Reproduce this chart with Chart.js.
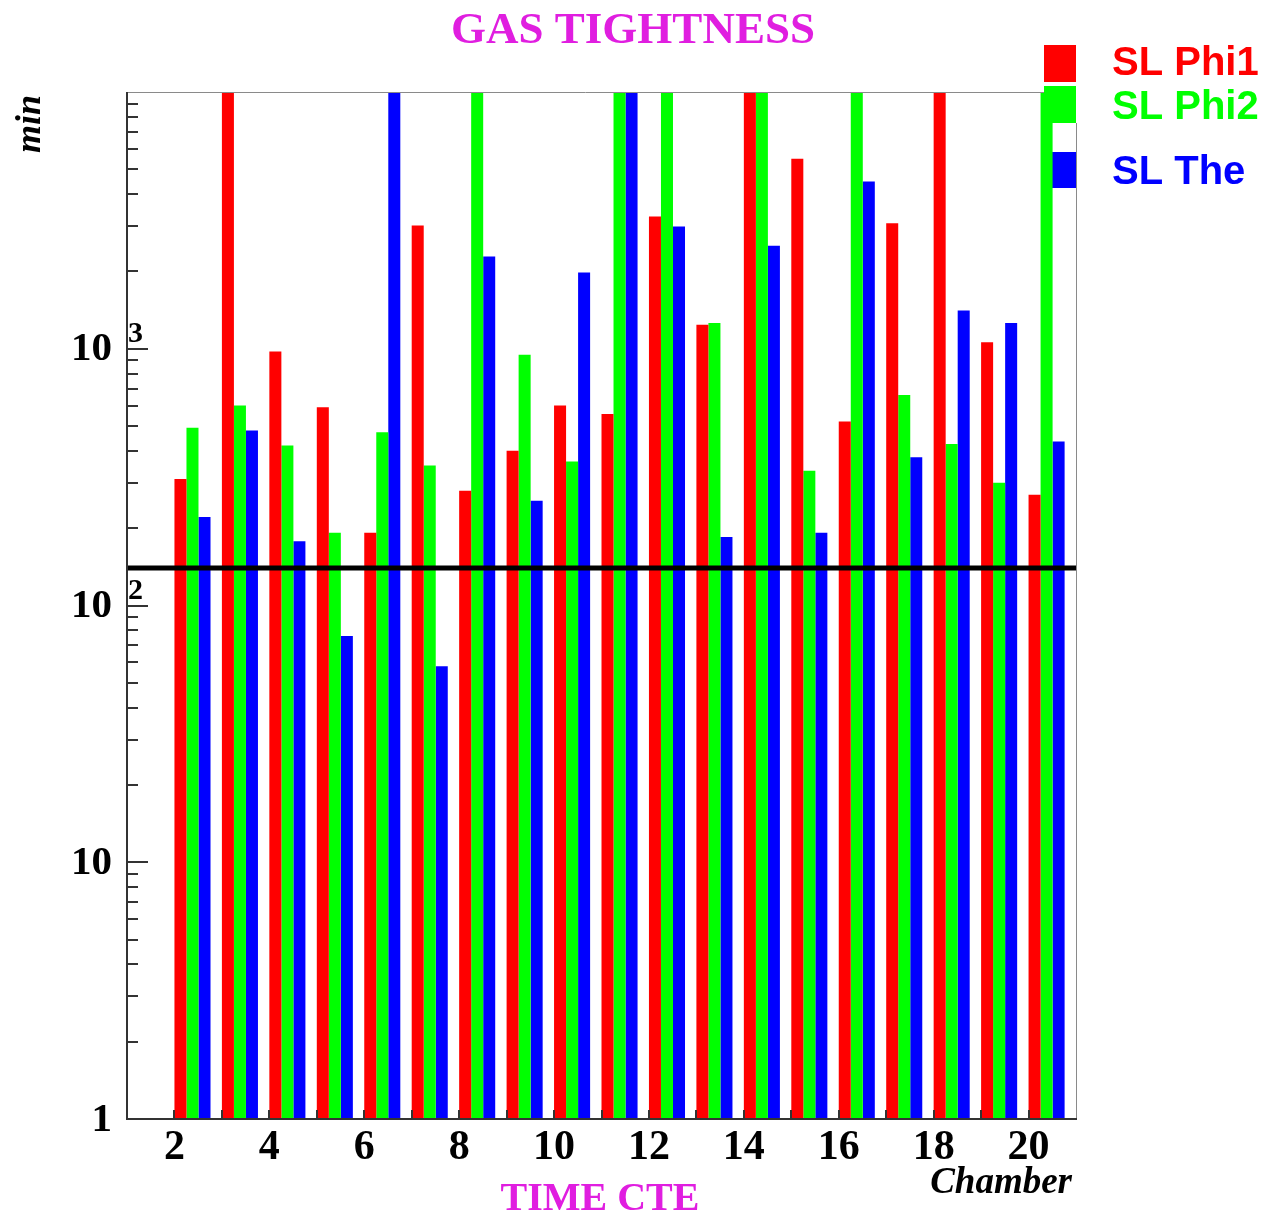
<!DOCTYPE html>
<html>
<head>
<meta charset="utf-8">
<script src="https://cdn.jsdelivr.net/npm/chart.js@4/dist/chart.umd.min.js"></script>
<style>
  html, body { margin: 0; padding: 0; background: #ffffff; }
  #wrap { width: 1269px; height: 1218px; position: relative; }
</style>
</head>
<body>
<div id="wrap"><canvas id="c" width="1269" height="1218"></canvas></div>
<script>
// ---- data ----
const chambers = [1,2,3,4,5,6,7,8,9,10,11,12,13,14,15,16,17,18,19,20];
// values above 10^4 run off the top of the frame
const slPhi1 = [null, 311, 15000, 975, 592, 192, 3020, 280, 401, 601, 557, 3274, 1239, 15000, 5495, 521, 3085, 15000, 1061, 270];
const slPhi2 = [null, 492, 601, 420, 192, 473, 351, 15000, 947, 364, 15000, 15000, 1259, 15000, 335, 15000, 661, 426, 301, 15000];
const slThe  = [null, 221, 480, 178, 76, 15000, 58, 2287, 256, 1982, 15000, 2993, 185, 2517, 192, 4480, 378, 1409, 1259, 435];
const seriesNames = ['SL Phi1', 'SL Phi2', 'SL The'];
const limitValue = 140;
const xTickLabels = [2,4,6,8,10,12,14,16,18,20];
const yDecades = [1, 10, 100, 1000];
const yDecadeLabels = [['1',''], ['10',''], ['10','2'], ['10','3']];
const xRange = [1, 21];
const yRange = [1, 10000];

const colors = ['#ff0000', '#00ff00', '#0000ff'];
const groupOffset = 0.38; // bars of a chamber sit in the left part of its bin

function toPoints(arr){ return chambers.map((c,i)=>({x: c + groupOffset, y: arr[i]})); }

const SERIF = '"Liberation Serif", "DejaVu Serif", serif';
const SANS = '"Liberation Sans", Arial, sans-serif';

const deco = {
  id: 'deco',
  beforeDatasetsDraw(chart){
    const ctx = chart.ctx;
    ctx.save();
    // legend boxes (bars are drawn over them)
    ctx.fillStyle = colors[0]; ctx.fillRect(1044, 45, 32, 37);
    ctx.fillStyle = colors[1]; ctx.fillRect(1044, 86, 32, 37);
    ctx.fillStyle = colors[2]; ctx.fillRect(1044, 152, 32, 36);
    ctx.restore();
  },
  afterDatasetsDraw(chart){
    const ctx = chart.ctx, a = chart.chartArea;
    const xs = chart.scales.x, ys = chart.scales.y;
    ctx.save();
    // frame
    ctx.strokeStyle = '#8a8a8a'; ctx.lineWidth = 1;
    ctx.beginPath();
    ctx.moveTo(a.left, a.top + 0.5); ctx.lineTo(1044, a.top + 0.5);
    ctx.moveTo(a.right + 0.5, 123); ctx.lineTo(a.right + 0.5, a.bottom);
    ctx.stroke();
    ctx.strokeStyle = '#333'; ctx.lineWidth = 2;
    ctx.beginPath();
    ctx.moveTo(a.left, a.top); ctx.lineTo(a.left, a.bottom + 1);
    ctx.moveTo(a.left, a.bottom); ctx.lineTo(a.right + 1, a.bottom);
    ctx.stroke();
    // y ticks inside
    ctx.beginPath();
    for (let d = 0; d < 4; d++) {
      for (let m = 1; m <= 9; m++) {
        const v = m * Math.pow(10, d);
        const py = Math.round(ys.getPixelForValue(v));
        const len = (m === 1) ? 21 : 11;
        ctx.moveTo(a.left, py); ctx.lineTo(a.left + len, py);
      }
    }
    // x ticks inside
    for (let n = 2; n <= 20; n++) {
      const px = Math.round(xs.getPixelForValue(n));
      ctx.moveTo(px, a.bottom); ctx.lineTo(px, a.bottom - 9);
    }
    ctx.stroke();
    ctx.restore();
  },
  afterDraw(chart){
    const ctx = chart.ctx, a = chart.chartArea;
    const ys = chart.scales.y;
    ctx.save();
    // y tick labels with superscript exponents
    ctx.fillStyle = '#000';
    yDecades.forEach((v, i) => {
      const py = ys.getPixelForValue(v);
      ctx.font = 'bold 41px ' + SERIF;
      ctx.textAlign = 'right'; ctx.textBaseline = 'middle';
      ctx.fillText(yDecadeLabels[i][0], 112, py + 1);
      if (yDecadeLabels[i][1]) {
        ctx.font = 'bold 30px ' + SERIF;
        ctx.textAlign = 'left'; ctx.textBaseline = 'alphabetic';
        ctx.fillText(yDecadeLabels[i][1], 128, py - 7);
      }
    });
    // titles
    ctx.fillStyle = '#e01ee0';
    ctx.font = 'bold 45px ' + SERIF;
    ctx.textAlign = 'center'; ctx.textBaseline = 'alphabetic';
    ctx.fillText('GAS TIGHTNESS', 633, 43);
    ctx.font = 'bold 40px ' + SERIF;
    ctx.fillText('TIME CTE', 600, 1210);
    // axis titles
    ctx.fillStyle = '#000';
    ctx.font = 'italic bold 37px ' + SERIF;
    ctx.textAlign = 'right';
    ctx.fillText('Chamber', 1072, 1193);
    ctx.save();
    ctx.translate(40, 153); ctx.rotate(-Math.PI / 2);
    ctx.font = 'italic bold 36px ' + SERIF;
    ctx.textAlign = 'left';
    ctx.fillText('min', 0, 0);
    ctx.restore();
    // legend text
    ctx.font = 'bold 40px ' + SANS;
    ctx.textAlign = 'left';
    ctx.fillStyle = colors[0]; ctx.fillText(seriesNames[0], 1112, 75);
    ctx.fillStyle = colors[1]; ctx.fillText(seriesNames[1], 1112, 119);
    ctx.fillStyle = colors[2]; ctx.fillText(seriesNames[2], 1112, 184);
    ctx.restore();
  }
};

const barDs = (label, arr, col) => ({
  type: 'bar', label, data: toPoints(arr), backgroundColor: col, borderWidth: 0,
  categoryPercentage: 0.76, barPercentage: 1.0, order: 1
});

new Chart(document.getElementById('c'), {
  type: 'bar',
  data: {
    datasets: [
      barDs(seriesNames[0], slPhi1, colors[0]),
      barDs(seriesNames[1], slPhi2, colors[1]),
      barDs(seriesNames[2], slThe, colors[2]),
      { type: 'line', label: 'limit', data: [{x: xRange[0], y: limitValue}, {x: xRange[1], y: limitValue}],
        borderColor: '#000', borderWidth: 5, pointRadius: 0, order: 0, clip: 0 }
    ]
  },
  options: {
    responsive: false,
    animation: false,
    devicePixelRatio: 1,
    layout: { padding: { top: 92, right: 193, left: 0, bottom: 0 } },
    plugins: { legend: { display: false }, title: { display: false }, tooltip: { enabled: false } },
    scales: {
      x: {
        type: 'linear', min: xRange[0], max: xRange[1], offset: false,
        grid: { display: false }, border: { display: false },
        ticks: { color: '#000', padding: 0, font: { family: SERIF, weight: 'bold', size: 42, lineHeight: 1.0 }, autoSkip: false, maxRotation: 0 },
        afterBuildTicks(s){ s.ticks = xTickLabels.map(v => ({ value: v })); },
        afterFit(s){ s.height = 99; }
      },
      y: {
        type: 'logarithmic', min: yRange[0], max: yRange[1],
        grid: { display: false }, border: { display: false },
        ticks: { display: false },
        afterFit(s){ s.width = 127; }
      }
    }
  },
  plugins: [deco]
});
</script>
</body>
</html>
